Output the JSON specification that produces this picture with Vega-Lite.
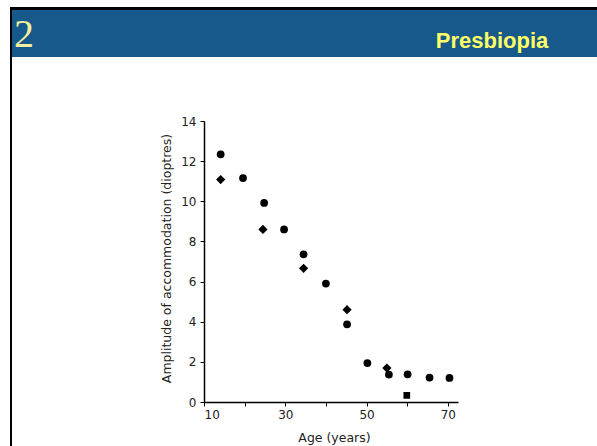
{
  "$schema": "https://vega.github.io/schema/vega-lite/v6.json",
  "padding": {"left": 10, "top": 7, "right": 0, "bottom": 0},
  "background": "white",
  "config": {"view": {"stroke": null}},
  "bounds": "flush",
  "spacing": 0,
  "vconcat": [
    {
      "width": 587, "height": 3,
      "view": {"fill": "black", "stroke": null},
      "data": {"values": []},
      "mark": "point",
      "encoding": {}
    },
    {
      "bounds": "flush",
      "spacing": 0,
      "hconcat": [
        {
          "width": 2, "height": 436,
          "view": {"fill": "black", "stroke": null},
          "data": {"values": []},
          "mark": "point",
          "encoding": {}
        },
        {
          "bounds": "flush",
          "spacing": 64,
          "vconcat": [
            {
              "width": 585, "height": 47,
              "view": {"fill": "#16598a", "stroke": null},
              "data": {"values": [{"label": "2"}, {"label": "Presbiopia"}]},
              "encoding": {
                "x": {"field": "label", "type": "nominal", "axis": null,
                      "scale": {"type": "point", "domain": ["2", "Presbiopia"], "range": [2, 480], "padding": 0}},
                "text": {"field": "label"}
              },
              "layer": [
                {
                  "transform": [{"filter": "datum.label == '2'"}],
                  "mark": {"type": "text", "font": "Liberation Serif", "fontSize": 40, "color": "#f2f0a0", "align": "left", "baseline": "middle", "dy": 1}
                },
                {
                  "transform": [{"filter": "datum.label == 'Presbiopia'"}],
                  "mark": {"type": "text", "font": "Liberation Sans", "fontWeight": "bold", "fontSize": 22, "color": "#ffff66", "align": "center", "baseline": "middle", "dy": 7}
                }
              ]
            },
            {
              "bounds": "flush",
              "spacing": 0,
              "hconcat": [
                {
                  "width": 191.5, "height": 1,
                  "data": {"values": []},
                  "mark": "point",
                  "encoding": {}
                },
                {
                  "width": 254, "height": 281,
                  "data": {"values": [
                    {"age": 14.1, "amp": 12.34, "kind": "circle"},
                    {"age": 19.6, "amp": 11.16, "kind": "circle"},
                    {"age": 24.8, "amp": 9.92, "kind": "circle"},
                    {"age": 29.7, "amp": 8.6, "kind": "circle"},
                    {"age": 34.5, "amp": 7.36, "kind": "circle"},
                    {"age": 40.0, "amp": 5.9, "kind": "circle"},
                    {"age": 45.2, "amp": 3.87, "kind": "circle"},
                    {"age": 50.2, "amp": 1.94, "kind": "circle"},
                    {"age": 55.5, "amp": 1.37, "kind": "circle"},
                    {"age": 60.1, "amp": 1.38, "kind": "circle"},
                    {"age": 65.5, "amp": 1.22, "kind": "circle"},
                    {"age": 70.4, "amp": 1.2, "kind": "circle"},
                    {"age": 14.1, "amp": 11.08, "kind": "diamond"},
                    {"age": 24.5, "amp": 8.6, "kind": "diamond"},
                    {"age": 34.5, "amp": 6.66, "kind": "diamond"},
                    {"age": 45.2, "amp": 4.6, "kind": "diamond"},
                    {"age": 55.0, "amp": 1.69, "kind": "diamond"},
                    {"age": 59.9, "amp": 0.33, "kind": "square"}
                  ]},
                  "mark": {"type": "point", "filled": true, "opacity": 1, "color": "black"},
                  "encoding": {
                    "x": {
                      "field": "age", "type": "quantitative",
                      "scale": {"domain": [10, 72.5], "nice": false, "zero": false},
                      "axis": {
                        "title": "Age (years)",
                        "values": [10, 20, 30, 40, 50, 60, 70],
                        "labelExpr": "datum.value == 20 || datum.value == 40 || datum.value == 60 ? '' : datum.label",
                        "grid": false,
                        "domainColor": "black", "domainWidth": 1.5,
                        "tickColor": "black", "tickSize": 4, "tickWidth": 1,
                        "labelFont": "DejaVu Sans", "labelFontSize": 12, "labelColor": "#222", "labelPadding": 3,
                        "titleFont": "DejaVu Sans", "titleFontSize": 12.5, "titleFontWeight": "normal", "titleColor": "#222",
                        "titleX": 130, "titleY": 35, "titleBaseline": "middle"
                      }
                    },
                    "y": {
                      "field": "amp", "type": "quantitative",
                      "scale": {"domain": [0, 14], "nice": false},
                      "axis": {
                        "title": "Amplitude of accommodation (dioptres)",
                        "values": [0, 2, 4, 6, 8, 10, 12, 14],
                        "grid": false,
                        "domainColor": "black", "domainWidth": 1.5,
                        "tickColor": "black", "tickSize": 4, "tickWidth": 1,
                        "labelFont": "DejaVu Sans", "labelFontSize": 12, "labelColor": "#222", "labelPadding": 4,
                        "titleFont": "DejaVu Sans", "titleFontSize": 12.5, "titleFontWeight": "normal", "titleColor": "#222",
                        "titleX": -38, "titleY": 137, "titleBaseline": "middle", "titleAlign": "center", "titleAngle": -90
                      }
                    },
                    "shape": {
                      "field": "kind", "type": "nominal",
                      "scale": {"domain": ["circle", "diamond", "square"], "range": ["circle", "diamond", "square"]},
                      "legend": null
                    },
                    "size": {
                      "field": "kind", "type": "nominal",
                      "scale": {"type": "ordinal", "domain": ["circle", "diamond", "square"], "range": [60, 85, 45]},
                      "legend": null
                    }
                  }
                }
              ]
            }
          ]
        }
      ]
    }
  ]
}
